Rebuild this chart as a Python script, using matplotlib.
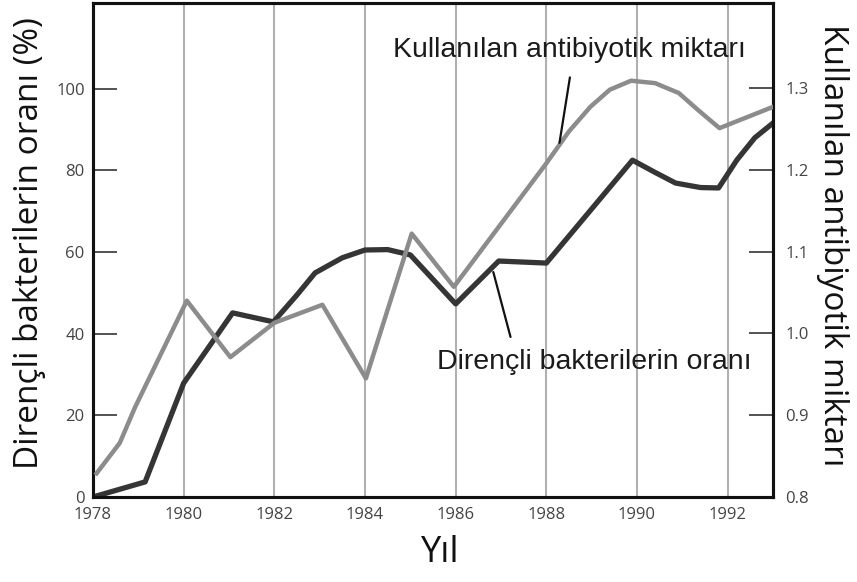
import matplotlib
matplotlib.use("Agg")
import matplotlib.pyplot as plt

# resistant bacteria share (%), left axis
res_years = [1978.0, 1979.15, 1980.0, 1981.08, 1981.98, 1982.5, 1982.9, 1983.5,
             1984.0, 1984.5, 1985.0, 1986.0, 1986.95, 1988.0, 1989.9, 1990.4,
             1990.85, 1991.4, 1991.8, 1992.2, 1992.6, 1993.0]
res_vals = [0, 3.7, 27.9, 45.1, 42.9, 49.5, 54.9, 58.6,
            60.5, 60.6, 59.3, 47.3, 57.8, 57.3, 82.5, 79.5,
            76.9, 75.8, 75.7, 82.5, 88.0, 91.6]

# antibiotic use, right axis
ab_years = [1978.08, 1978.59, 1978.93, 1980.07, 1981.03, 1982.0, 1983.06, 1984.02,
            1985.03, 1985.96, 1988.0, 1988.5, 1988.97, 1989.4, 1989.87, 1990.4,
            1990.92, 1991.35, 1991.82, 1993.0]
ab_vals = [0.829, 0.866, 0.910, 1.040, 0.971, 1.013, 1.035, 0.945,
           1.122, 1.057, 1.208, 1.247, 1.277, 1.298, 1.309, 1.306,
           1.294, 1.273, 1.251, 1.277]

x_ticks = [1978, 1980, 1982, 1984, 1986, 1988, 1990, 1992]
grid_years = [1980, 1982, 1984, 1986, 1988, 1990, 1992]
left_ticks = [0, 20, 40, 60, 80, 100]
right_ticks = [0.8, 0.9, 1.0, 1.1, 1.2, 1.3]

fig = plt.figure(figsize=(8.57, 5.82), dpi=100)
ax = fig.add_axes([93 / 857, 1 - 497 / 582, 680 / 857, 494 / 582])
ax2 = ax.twinx()

for g in grid_years:
    ax.axvline(g, color="#b0b0b0", lw=1.5, zorder=0)

ax.plot(res_years, res_vals, color="#353535", lw=3.8, zorder=3)
ax2.plot(ab_years, ab_vals, color="#8c8c8c", lw=3.2, zorder=3)

ax.set_xlim(1978, 1993)
ax.set_ylim(0, 121)
ax2.set_ylim(0.8, 1.404)

ax.set_xticks(x_ticks)
ax.set_yticks(left_ticks)
ax2.set_yticks(right_ticks)
ax2.set_yticklabels(["0.8", "0.9", "1.0", "1.1", "1.2", "1.3"])

tick_font = "Open Sans"
ax.tick_params(axis="x", length=0, pad=7, labelsize=12, labelcolor="#444444")
ax.tick_params(axis="y", direction="in", length=17, width=1.3, color="#444444",
               pad=6, labelsize=12, labelcolor="#444444")
ax2.tick_params(axis="y", direction="in", length=17, width=1.3, color="#444444",
                pad=9, labelsize=12, labelcolor="#444444")
for lab in ax.get_xticklabels() + ax.get_yticklabels() + ax2.get_yticklabels():
    lab.set_family(tick_font)

for a in (ax, ax2):
    for s in a.spines.values():
        s.set_linewidth(2.2)
        s.set_color("#111111")

fig.text(30 / 857, 1 - 243 / 582, "Dirençli bakterilerin oranı (%)", rotation=90,
         ha="center", va="center", fontsize=24, family="Open Sans", color="#111111")
fig.text(832 / 857, 1 - 245 / 582, "Kullanılan antibiyotik miktarı", rotation=270,
         ha="center", va="center", fontsize=24, family="Open Sans", color="#111111")
fig.text(440 / 857, 1 - 553 / 582, "Yıl", ha="center", va="center",
         fontsize=26, family="Open Sans", color="#111111")

# curve labels with leader lines
ax2.annotate("", xy=(1988.29, 1.233), xytext=(1988.52, 1.313),
             arrowprops=dict(arrowstyle="-", color="#111111", lw=1.6,
                             shrinkA=0, shrinkB=0))
ax.annotate("", xy=(1986.83, 55.1), xytext=(1987.21, 39.2),
            arrowprops=dict(arrowstyle="-", color="#111111", lw=1.6,
                            shrinkA=0, shrinkB=0))
fig.text(393 / 857, 1 - 50 / 582, "Kullanılan antibiyotik miktarı", ha="left",
         va="center", fontsize=20.5, family="Liberation Sans", color="#1a1a1a")
fig.text(437 / 857, 1 - 362 / 582, "Dirençli bakterilerin oranı", ha="left",
         va="center", fontsize=20.5, family="Liberation Sans", color="#1a1a1a")

fig.savefig("out.png", dpi=100)
